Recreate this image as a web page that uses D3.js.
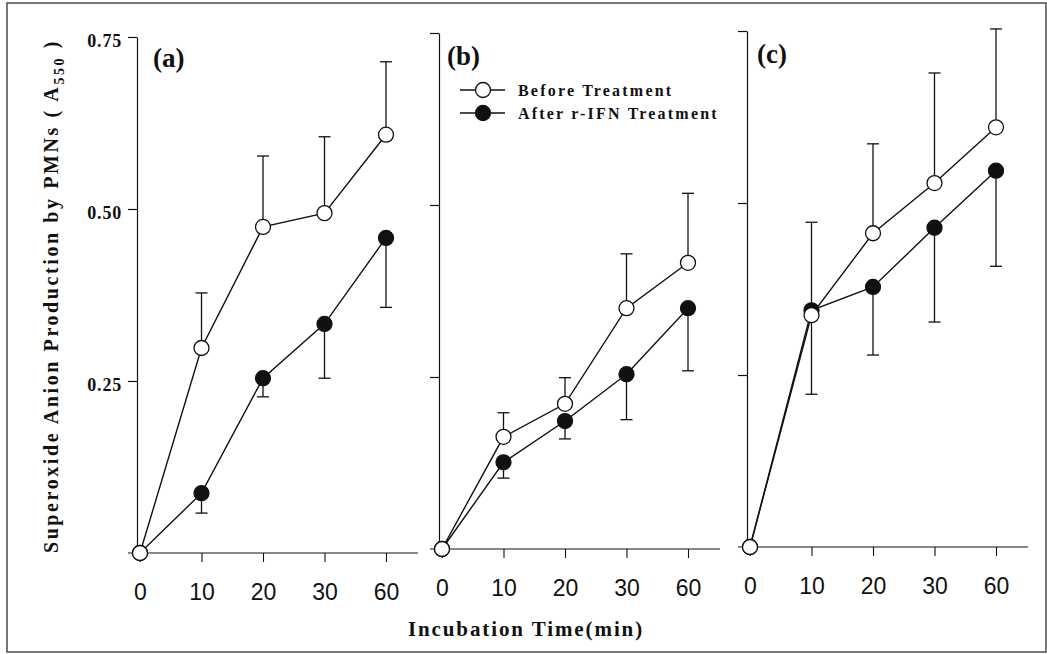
<!DOCTYPE html>
<html>
<head>
<meta charset="utf-8">
<script src="https://cdnjs.cloudflare.com/ajax/libs/d3/7.8.5/d3.min.js"></script>
<style>
body { margin: 0; background: #fff; }
text { fill: #111; }
</style>
</head>
<body>
<div id="chart"></div>
<script>
var times = ["0", "10", "20", "30", "60"];
var yTicks = [0.25, 0.50, 0.75];
var panelNames = ["(a)", "(b)", "(c)"];
var seriesNames = ["Before Treatment", "After r-IFN Treatment"];

// superoxide production (A550), mean and SD, one pair of arrays per panel
var beforeA = [0, 0.298, 0.474, 0.494, 0.608];
var beforeAErr = [0, 0.080, 0.103, 0.111, 0.106];
var afterA = [0, 0.087, 0.254, 0.333, 0.458];
var afterAErr = [0, 0.029, 0.027, 0.079, 0.101];

var beforeB = [0, 0.163, 0.211, 0.350, 0.416];
var beforeBErr = [0, 0.035, 0.038, 0.079, 0.101];
var afterB = [0, 0.126, 0.186, 0.254, 0.350];
var afterBErr = [0, 0.023, 0.026, 0.066, 0.091];

var beforeC = [0, 0.337, 0.456, 0.529, 0.610];
var beforeCErr = [0, 0.135, 0.130, 0.160, 0.143];
var afterC = [0, 0.344, 0.378, 0.464, 0.547];
var afterCErr = [0, 0.122, 0.099, 0.137, 0.139];

var panels = [
  {name: panelNames[0], before: beforeA, beforeErr: beforeAErr, after: afterA, afterErr: afterAErr},
  {name: panelNames[1], before: beforeB, beforeErr: beforeBErr, after: afterB, afterErr: afterBErr},
  {name: panelNames[2], before: beforeC, beforeErr: beforeCErr, after: afterC, afterErr: afterCErr}
];

// where each panel's y axis sits, and its zero line
var panelX = [137, 439, 747];
var panelZero = [553, 549, 547];
var labelPos = [[153, 67], [447, 65], [757, 63]];

var width = 1047, height = 654;
var serif = "'Liberation Serif', 'Times New Roman', serif";
var sans = "'Liberation Sans', Arial, sans-serif";

var svg = d3.select("#chart").append("svg")
    .attr("width", width).attr("height", height);

svg.append("rect")
    .attr("x", 7).attr("y", 3).attr("width", 1039).attr("height", 649)
    .attr("fill", "none").attr("stroke", "#555").attr("stroke-width", 1.6);

var x = d3.scalePoint().domain(times).range([3, 249]);

panels.forEach(function(p, i) {
  var y = d3.scaleLinear().domain([0, 0.75]).range([panelZero[i], panelZero[i] - 516]);
  var g = svg.append("g").attr("transform", "translate(" + panelX[i] + ",0)");

  // y axis, labels only on the first panel
  var yAxis = d3.axisLeft(y).tickValues(yTicks).tickSize(9).tickSizeOuter(0).tickPadding(6)
      .tickFormat(i == 0 ? d3.format(".2f") : "");
  var ya = g.append("g").call(yAxis);
  ya.select(".domain").attr("stroke", "#111").attr("stroke-width", 1.2);
  ya.selectAll(".tick line").attr("stroke", "#111").attr("stroke-width", 1.2);
  ya.selectAll(".tick text")
      .style("font-family", serif).style("font-weight", "bold").style("font-size", "18px")
      .style("letter-spacing", "0.8px")
      .attr("dy", "0.5em").attr("fill", "#111");

  // x axis
  var xa = g.append("g").attr("transform", "translate(0," + panelZero[i] + ")")
      .call(d3.axisBottom(x).tickSize(9).tickSizeOuter(0));
  xa.select(".domain").remove();
  xa.append("line").attr("x1", -9).attr("x2", 281)
      .attr("stroke", "#111").attr("stroke-width", 1.2);
  xa.selectAll(".tick line").attr("stroke", "#111").attr("stroke-width", 1.1);
  xa.selectAll(".tick text")
      .style("font-family", sans).style("font-size", "23px")
      .attr("y", 47).attr("dy", 0).attr("fill", "#111");

  svg.append("text")
      .attr("x", labelPos[i][0]).attr("y", labelPos[i][1])
      .style("font-family", serif).style("font-weight", "bold").style("font-size", "27px")
      .text(p.name);

  var series = [
    {vals: p.after, err: p.afterErr, dir: -1, fill: "#111"},
    {vals: p.before, err: p.beforeErr, dir: 1, fill: "#fff"}
  ];

  series.forEach(function(s) {
    var pts = times.map(function(t, k) { return {t: t, v: s.vals[k], e: s.err[k]}; });
    var bars = pts.filter(function(d) { return d.e > 0; });

    g.selectAll(null).data(bars).enter().append("line")
        .attr("x1", function(d) { return x(d.t); })
        .attr("x2", function(d) { return x(d.t); })
        .attr("y1", function(d) { return y(d.v); })
        .attr("y2", function(d) { return y(d.v + s.dir * d.e); })
        .attr("stroke", "#111").attr("stroke-width", 1.3);
    g.selectAll(null).data(bars).enter().append("line")
        .attr("x1", function(d) { return x(d.t) - 6; })
        .attr("x2", function(d) { return x(d.t) + 6; })
        .attr("y1", function(d) { return y(d.v + s.dir * d.e); })
        .attr("y2", function(d) { return y(d.v + s.dir * d.e); })
        .attr("stroke", "#111").attr("stroke-width", 1.3);

    g.append("path").datum(pts)
        .attr("fill", "none").attr("stroke", "#111").attr("stroke-width", 1.4)
        .attr("d", d3.line().x(function(d) { return x(d.t); }).y(function(d) { return y(d.v); }));

    g.selectAll(null).data(pts).enter().append("circle")
        .attr("cx", function(d) { return x(d.t); })
        .attr("cy", function(d) { return y(d.v); })
        .attr("r", 7.5)
        .attr("fill", s.fill).attr("stroke", "#111").attr("stroke-width", 1.3);
  });
});

// legend inside panel (b)
var legend = svg.append("g");
[{y: 90, fill: "#fff"}, {y: 113, fill: "#111"}].forEach(function(d, k) {
  legend.append("line").attr("x1", 460).attr("x2", 505).attr("y1", d.y).attr("y2", d.y)
      .attr("stroke", "#111").attr("stroke-width", 1.4);
  legend.append("circle").attr("cx", 483).attr("cy", d.y).attr("r", 7.5)
      .attr("fill", d.fill).attr("stroke", "#111").attr("stroke-width", 1.3);
  legend.append("text").attr("x", 518).attr("y", d.y + 6)
      .style("font-family", serif).style("font-weight", "bold").style("font-size", "16px")
      .style("letter-spacing", "2.2px")
      .text(seriesNames[k]);
});

// axis titles
svg.append("text")
    .attr("x", 526).attr("y", 636).attr("text-anchor", "middle")
    .style("font-family", serif).style("font-weight", "bold").style("font-size", "21px")
    .style("letter-spacing", "1.9px")
    .text("Incubation Time(min)");

var yTitle = svg.append("text")
    .attr("transform", "translate(58,296) rotate(-90)")
    .attr("text-anchor", "middle")
    .style("font-family", serif).style("font-weight", "bold").style("font-size", "20px")
    .style("letter-spacing", "2.6px");
yTitle.append("tspan").text("Superoxide Anion Production by PMNs ( A");
yTitle.append("tspan").attr("dy", 6).style("font-size", "14px").text("550");
yTitle.append("tspan").attr("dy", -6).text(" )");
</script>
</body>
</html>
